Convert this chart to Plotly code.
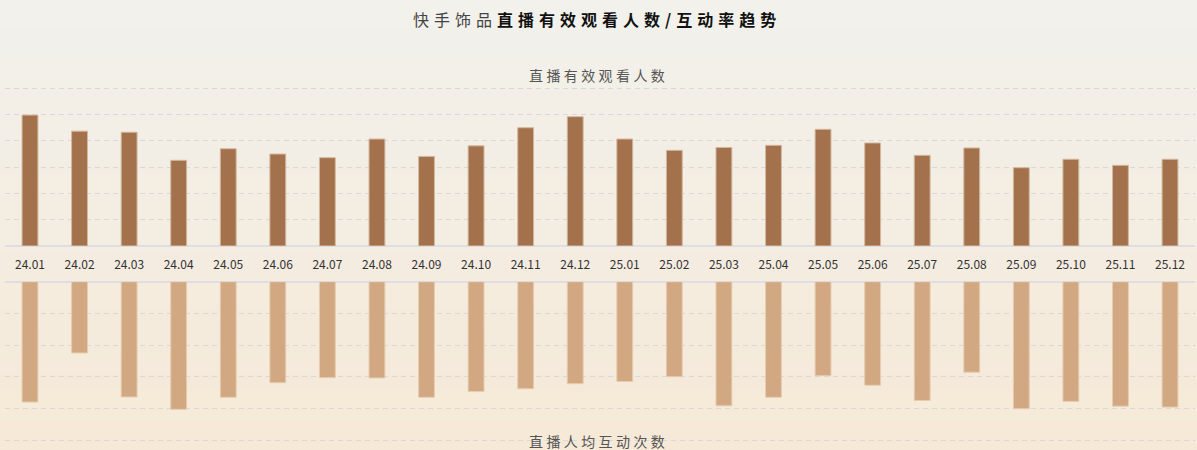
import plotly.graph_objects as go

months = ["24.01", "24.02", "24.03", "24.04", "24.05", "24.06", "24.07", "24.08",
          "24.09", "24.10", "24.11", "24.12", "25.01", "25.02", "25.03", "25.04",
          "25.05", "25.06", "25.07", "25.08", "25.09", "25.10", "25.11", "25.12"]
viewers = [4.98, 4.37, 4.33, 3.26, 3.70, 3.50, 3.36, 4.07, 3.41, 3.81, 4.50, 4.92,
           4.07, 3.64, 3.75, 3.83, 4.44, 3.92, 3.45, 3.73, 2.98, 3.30, 3.07, 3.30]
interactions = [3.80, 2.25, 3.64, 4.03, 3.65, 3.19, 3.03, 3.04, 3.65, 3.47, 3.38, 3.22,
                3.15, 3.00, 3.92, 3.65, 2.97, 3.27, 3.75, 2.86, 4.01, 3.78, 3.93, 3.96]

title_light = "快手饰品"
title_bold = "直播有效观看人数/互动率趋势"
sub_top = "直播有效观看人数"
sub_bottom = "直播人均互动次数"

W, H = 1197, 450
FONT = "Noto Sans CJK SC"

fig = go.Figure()
fig.add_trace(go.Bar(
    x=months, y=viewers, width=0.32, xaxis="x", yaxis="y",
    marker=dict(color="#A3724D", line=dict(color="#D2B89E", width=1)),
    showlegend=False, hoverinfo="x+y"))
fig.add_trace(go.Bar(
    x=months, y=interactions, width=0.32, xaxis="x2", yaxis="y2",
    marker=dict(color="#D1A881", line=dict(color="#E6CDB0", width=1)),
    showlegend=False, hoverinfo="x+y"))

# gradient background bands
top_c = (242, 241, 236)
bot_c = (246, 233, 215)
N = 60
shapes = []
for i in range(N):
    t = i / (N - 1)
    c = tuple(round(top_c[k] + (bot_c[k] - top_c[k]) * t) for k in range(3))
    y1 = 1 - i / N
    y0 = 1 - (i + 1) / N
    shapes.append(dict(type="rect", xref="paper", yref="paper", x0=0, x1=1,
                       y0=y0 - 0.001, y1=y1 + 0.001, layer="below",
                       fillcolor="rgb(%d,%d,%d)" % c, line=dict(width=0)))

xd = [5.2 / W, 1194.8 / W]
top_dom = [1 - 246 / H, 1 - 87 / H]
bot_dom = [0, 1 - 281.7 / H]
bot_max = (450 - 281.7) / 31.67

grid = dict(showgrid=True, gridcolor="#D9D9DD", gridwidth=1, griddash="5px,4px")

fig.update_layout(
    width=W, height=H,
    margin=dict(l=0, r=0, t=0, b=0),
    paper_bgcolor="rgb(242,241,236)",
    plot_bgcolor="rgba(0,0,0,0)",
    font=dict(family=FONT, color="#333333"),
    shapes=shapes,
    bargap=0.68,
    xaxis=dict(domain=xd, anchor="y", type="category", range=[-0.5, 23.5],
               showgrid=False, showline=False, zeroline=False,
               ticks="", showticklabels=True, ticklabelstandoff=10,
               tickfont=dict(size=12, color="#333333", family=FONT)),
    yaxis=dict(domain=top_dom, anchor="x", range=[0, 6.05], dtick=1,
               showticklabels=False, zeroline=True, zerolinecolor="#DDDFE5",
               zerolinewidth=2, **grid),
    xaxis2=dict(domain=xd, anchor="y2", type="category", range=[-0.5, 23.5],
                matches="x", showgrid=False, showline=False, zeroline=False,
                showticklabels=False, ticks=""),
    yaxis2=dict(domain=bot_dom, anchor="x2", range=[bot_max, 0], dtick=1,
                showticklabels=False, zeroline=True, zerolinecolor="#DDDFE5",
                zerolinewidth=1.5, **grid),
    annotations=[
        dict(xref="paper", yref="paper", x=0.499, y=1 - 19 / H, xanchor="center",
             yanchor="middle", showarrow=False,
             text=('<span style="letter-spacing:5px">' +
                   '<span style="color:#444444">' + title_light + '</span>' +
                   '<b style="color:#111111">' + title_bold + '</b></span>'),
             font=dict(size=16, family=FONT, color="#111111")),
        dict(xref="paper", yref="paper", x=0.5, y=1 - 75 / H, xanchor="center",
             yanchor="middle", showarrow=False,
             text='<span style="letter-spacing:3.4px">' + sub_top + '</span>',
             font=dict(size=14, family=FONT, color="#555555")),
        dict(xref="paper", yref="paper", x=0.5, y=1 - 441 / H, xanchor="center",
             yanchor="middle", showarrow=False,
             text='<span style="letter-spacing:3.4px">' + sub_bottom + '</span>',
             font=dict(size=14, family=FONT, color="#555555")),
    ],
)

fig.write_html("out.html", config={"displayModeBar": False},
               post_script="document.body.style.margin='0';document.body.style.overflow='hidden';")
